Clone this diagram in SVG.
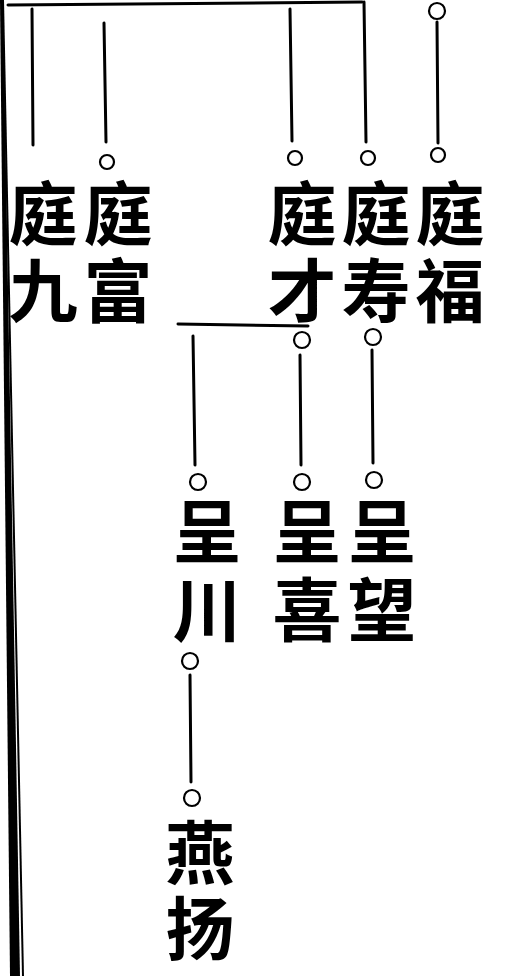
<svg xmlns="http://www.w3.org/2000/svg" width="508" height="976" viewBox="0 0 508 976">
<style>
.ln{stroke:#000;stroke-width:3;fill:none;stroke-linecap:round}
.c{stroke:#000;stroke-width:2.2;fill:#fff}
.t{font-family:"Liberation Sans","Noto Sans CJK SC",sans-serif;font-weight:700;font-size:69px;text-anchor:middle;fill:#000}
</style>
<rect width="508" height="976" fill="#fff"/>
<g id="border">
<polygon points="0,0 3,0 20,976 10,976" fill="#000"/>
<line x1="3" y1="0" x2="23" y2="976" stroke="#000" stroke-width="2"/>
</g>
<g id="connectors">
<path class="ln" d="M8,5 L362,2"/>
<path class="ln" d="M32,9 L33,145"/>
<path class="ln" d="M104,23 L106,142"/>
<path class="ln" d="M290,9 L292,141"/>
<path class="ln" d="M364,2 L366,142"/>
<path class="ln" d="M437,22 L438,143"/>
<path class="ln" d="M178,324 L308,326"/>
<path class="ln" d="M193,336 L195,465"/>
<path class="ln" d="M300,355 L301,465"/>
<path class="ln" d="M372,350 L373,463"/>
<path class="ln" d="M190,675 L191,782"/>
</g>
<g id="n-tingfu">
<circle class="c" cx="437" cy="11" r="8"/>
<circle class="c" cx="438" cy="155" r="7"/>
<text class="t" x="450" y="240">庭</text>
<text class="t" x="450" y="317">福</text>
</g>
<g id="n-tingshou">
<circle class="c" cx="368" cy="158" r="7"/>
<text class="t" x="376" y="240">庭</text>
<text class="t" x="376" y="317">寿</text>
</g>
<g id="n-tingcai">
<circle class="c" cx="295" cy="158" r="7"/>
<text class="t" x="302" y="240">庭</text>
<text class="t" x="302" y="317">才</text>
</g>
<g id="n-tingfu2">
<circle class="c" cx="107" cy="162" r="7"/>
<text class="t" x="118" y="240">庭</text>
<text class="t" x="118" y="317">富</text>
</g>
<g id="n-tingjiu">
<text class="t" x="43" y="240">庭</text>
<text class="t" x="43" y="317">九</text>
</g>
<g id="n-chengwang">
<circle class="c" cx="373" cy="337" r="8"/>
<circle class="c" cx="374" cy="480" r="8"/>
<text class="t" x="382" y="558">呈</text>
<text class="t" x="382" y="636">望</text>
</g>
<g id="n-chengxi">
<circle class="c" cx="302" cy="340" r="8"/>
<circle class="c" cx="302" cy="482" r="8"/>
<text class="t" x="307" y="558">呈</text>
<text class="t" x="307" y="636">喜</text>
</g>
<g id="n-chengchuan">
<circle class="c" cx="198" cy="482" r="8"/>
<circle class="c" cx="190" cy="661" r="8"/>
<text class="t" x="207" y="558">呈</text>
<text class="t" x="207" y="636">川</text>
</g>
<g id="n-yanyang">
<circle class="c" cx="192" cy="798" r="8"/>
<text class="t" x="200" y="879">燕</text>
<text class="t" x="200" y="955">扬</text>
</g>
</svg>
